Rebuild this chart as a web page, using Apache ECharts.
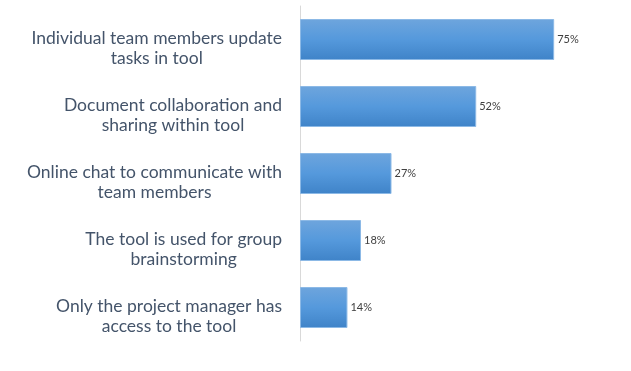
<!DOCTYPE html>
<html><head><meta charset="utf-8">
<script src="https://cdn.jsdelivr.net/npm/echarts@6/dist/echarts.min.js"></script>
<style>html,body{margin:0;padding:0;background:#fff}#c{width:631px;height:371px}</style>
</head><body><div id="c"></div>
<script>
const categories = [
  "Individual team members update\ntasks in tool",
  "Document collaboration and\nsharing within tool",
  "Online chat to communicate with\nteam members",
  "The tool is used for group\nbrainstorming",
  "Only the project manager has\naccess to the tool"
];
const values = [75, 52, 27, 18, 14];

const chart = echarts.init(document.getElementById('c'));
chart.setOption({
  animation: false,
  grid: {left: 300, top: 6, width: 305, height: 335, containLabel: false},
  xAxis: {type: 'value', min: 0, max: 90, show: false},
  yAxis: {
    type: 'category', data: categories, inverse: true,
    axisLine: {show: true, lineStyle: {color: '#d9d9d9', width: 1}},
    axisTick: {show: false},
    axisLabel: {
      margin: 18, align: 'right', padding: [17, 0, 0, 0],
      formatter: v => v.split('\n').map(s => '{c|' + s + '}').join('\n'),
      rich: {c: {align: 'center', color: '#44546a', fontSize: 17.5, lineHeight: 20, fontFamily: 'Lato'}}
    }
  },
  series: [{
    type: 'bar', data: values, barWidth: 41,
    itemStyle: {
      color: new echarts.graphic.LinearGradient(0, 0, 0, 1, [
        {offset: 0, color: '#6ea5dd'},
        {offset: 0.5, color: '#5599dc'},
        {offset: 1, color: '#3f83c8'}
      ]),
      borderColor: '#8cb9e6', borderWidth: 1
    },
    label: {show: true, position: 'right', distance: 3, formatter: '{c}%', color: '#404040', fontSize: 11, fontFamily: 'Lato'}
  }]
});
</script></body></html>
